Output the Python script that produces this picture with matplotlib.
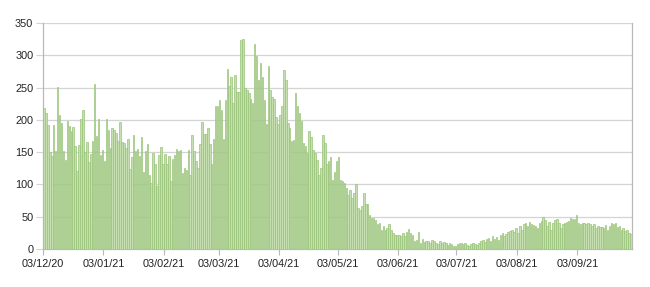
import matplotlib
matplotlib.use("Agg")
import matplotlib.pyplot as plt
import numpy as np
import pandas as pd

start_date = "2020-12-03"
dec_20 = [218,210,192,150,144,192,152,251,208,195,152,138,199,191,183,189,160,121,161,201,216,150,165,135,147,167,256,175,202]
jan_21 = [145,154,137,202,184,156,187,184,180,168,196,165,164,157,170,124,142,176,152,155,144,174,119,151,162,115,102,149,132,97,146]
feb_21 = [158,132,147,131,144,105,139,146,155,151,154,118,126,122,154,114,177,151,137,125,162,197,178,178,188,163,131,171]
mar_21 = [222,222,230,215,170,230,278,253,266,226,269,243,243,323,325,249,246,242,232,226,317,299,262,288,267,231,194,283,247,236,232]
apr_21 = [205,193,208,221,277,262,195,187,167,169,242,221,211,198,164,159,149,182,174,154,149,138,115,125,177,164,131,136,143,107]
may_21 = [120,136,143,107,105,102,94,84,92,79,87,100,64,61,66,86,69,69,52,48,48,45,39,41,30,35,30,33,39,30,25]
jun_21 = [22,21,21,20,25,20,27,31,25,21,12,14,26,10,16,11,12,13,9,14,12,10,8,12,10,11,9,6,10,8]
jul_21 = [5,4,8,10,9,7,9,6,5,8,10,7,6,9,12,14,11,15,17,13,20,16,18,14,22,25,20,24,26,28,30]
aug_21 = [27,33,25,35,30,38,40,35,42,38,37,35,32,40,43,50,45,35,42,30,40,45,46,40,32,38,40,42,44,48,47]
sep_21 = [46,52,40,38,41,40,38,40,38,36,39,32,36,34,34,33,37,30,36,40,38,40,34,35,30,33,28,30,25,23]
y_ticks = [0, 50, 100, 150, 200, 250, 300, 350]

values = np.array(dec_20 + jan_21 + feb_21 + mar_21 + apr_21 + may_21 +
                  jun_21 + jul_21 + aug_21 + sep_21)
dates = pd.date_range(start_date, periods=len(values), freq="D")

plt.rcParams['font.family'] = ['Liberation Sans', 'DejaVu Sans']
fig = plt.figure(figsize=(6.5, 2.87), dpi=100)
ax = fig.add_axes([43/650, 1-249/287, (632-43)/650, (249-23)/287])

x = np.arange(len(values))
ax.bar(x, values, width=0.78, color='#c6dfb1', edgecolor='#98c478', linewidth=0.5, zorder=3)

ax.set_xlim(-0.5, len(values) - 0.5)
ax.set_ylim(0, 350)
ax.set_yticks(y_ticks)
ax.grid(axis='y', color='#d4d4d4', linewidth=0.9, zorder=0)

tick_idx = [i for i, d in enumerate(dates) if d.day == 3]
ax.set_xticks([i - 0.5 for i in tick_idx])
ax.set_xticklabels([dates[i].strftime('%d/%m/%y') for i in tick_idx])

for s in ['left', 'bottom', 'right']:
    ax.spines[s].set_color('#b8b8b8')
    ax.spines[s].set_linewidth(0.9)
ax.spines['top'].set_visible(False)
ax.tick_params(axis='x', length=4, color='#b8b8b8', labelsize=7.8, labelcolor='#222222', pad=3)
ax.tick_params(axis='y', length=5, color='#d4d4d4', labelsize=7.8, labelcolor='#222222', pad=2)

fig.savefig('out.png', dpi=100, facecolor='white')
